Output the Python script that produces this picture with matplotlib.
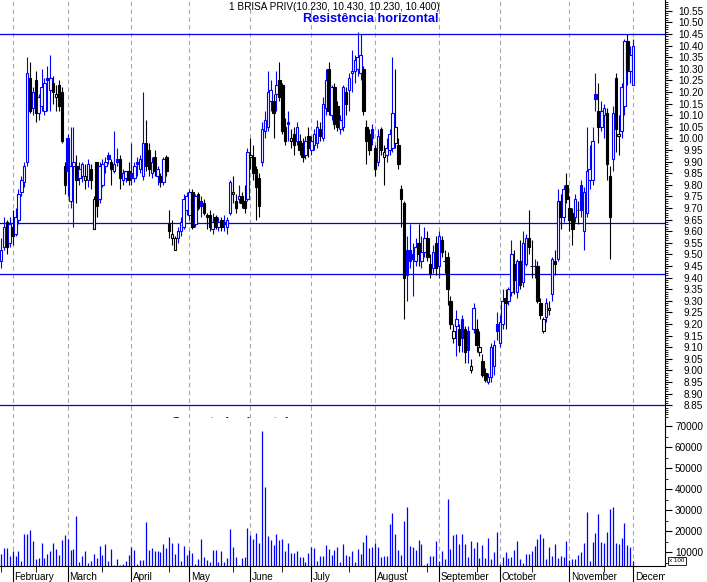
import matplotlib
matplotlib.use("Agg")
import matplotlib.pyplot as plt
import numpy as np
from matplotlib.patches import Rectangle
from matplotlib.transforms import blended_transform_factory, Bbox, TransformedBbox

plt.rcParams['font.family'] = ['Liberation Sans', 'DejaVu Sans']

# daily bars (open, high, low, close)
jan = [(9.47, 9.57, 9.44, 9.52), (9.53, 9.66, 9.52, 9.62), (9.64, 9.65, 9.50, 9.53), (9.55, 9.66, 9.53, 9.63)]
feb = [(9.62, 9.69, 9.54, 9.58), (9.59, 9.70, 9.58, 9.66), (9.65, 9.78, 9.63, 9.76), (9.77, 9.84, 9.75, 9.82),
       (9.81, 9.90, 9.79, 9.88), (9.90, 10.35, 9.88, 10.28), (10.26, 10.33, 10.11, 10.12), (10.13, 10.22, 10.10, 10.20),
       (10.25, 10.29, 10.07, 10.11), (10.11, 10.19, 10.08, 10.18), (10.14, 10.30, 10.12, 10.22), (10.12, 10.26, 10.10, 10.24),
       (10.26, 10.31, 10.12, 10.25), (10.21, 10.36, 10.12, 10.26), (10.24, 10.27, 10.15, 10.20), (10.18, 10.23, 10.12, 10.19),
       (10.23, 10.25, 10.12, 10.14), (10.20, 10.22, 9.98, 9.99), (9.88, 9.90, 9.76, 9.80)]
mar = [(10.00, 10.02, 9.75, 9.86), (9.73, 10.05, 9.70, 9.88), (9.88, 10.05, 9.62, 9.90), (9.88, 9.93, 9.72, 9.82),
       (9.83, 9.90, 9.80, 9.87), (9.84, 9.90, 9.81, 9.89), (9.82, 9.89, 9.78, 9.84), (9.82, 9.91, 9.79, 9.89),
       (9.87, 9.89, 9.78, 9.82), (9.61, 9.75, 9.61, 9.74), (9.90, 9.90, 9.66, 9.71), (9.74, 9.90, 9.72, 9.88),
       (9.80, 9.91, 9.79, 9.89), (9.88, 9.92, 9.85, 9.90), (9.93, 9.94, 9.89, 9.91), (9.90, 9.91, 9.80, 9.87),
       (9.86, 10.03, 9.85, 9.89), (9.91, 9.96, 9.88, 9.90), (9.91, 9.93, 9.78, 9.83), (9.82, 9.87, 9.80, 9.85),
       (9.83, 9.86, 9.81, 9.86), (9.86, 9.90, 9.80, 9.82)]
apr = [(9.85, 9.98, 9.80, 9.83), (9.83, 9.90, 9.81, 9.88), (9.90, 9.92, 9.84, 9.89), (9.87, 9.93, 9.85, 9.91),
       (9.84, 10.20, 9.82, 9.98), (9.98, 10.08, 9.86, 9.88), (9.95, 9.98, 9.84, 9.87), (9.85, 9.92, 9.83, 9.90),
       (9.92, 9.95, 9.84, 9.86), (9.84, 9.88, 9.80, 9.87), (9.84, 9.85, 9.79, 9.81), (9.81, 9.92, 9.80, 9.91),
       (9.92, 9.93, 9.84, 9.86), (9.63, 9.69, 9.57, 9.60), (9.57, 9.65, 9.54, 9.59), (9.52, 9.58, 9.52, 9.57),
       (9.57, 9.62, 9.55, 9.60), (9.60, 9.66, 9.58, 9.64), (9.62, 9.76, 9.61, 9.74), (9.69, 9.77, 9.67, 9.75)]
may = [(9.67, 9.78, 9.65, 9.77), (9.77, 9.78, 9.61, 9.62), (9.63, 9.76, 9.62, 9.75), (9.76, 9.77, 9.69, 9.70),
       (9.73, 9.75, 9.66, 9.71), (9.72, 9.74, 9.67, 9.68), (9.67, 9.68, 9.61, 9.66), (9.67, 9.69, 9.60, 9.62),
       (9.61, 9.68, 9.59, 9.64), (9.66, 9.67, 9.61, 9.62), (9.62, 9.66, 9.60, 9.64), (9.65, 9.66, 9.60, 9.62),
       (9.64, 9.67, 9.60, 9.63), (9.62, 9.66, 9.59, 9.65), (9.68, 9.82, 9.67, 9.81), (9.76, 9.84, 9.72, 9.77),
       (9.73, 9.76, 9.68, 9.70), (9.74, 9.80, 9.72, 9.75), (9.75, 9.77, 9.70, 9.72), (9.73, 9.80, 9.68, 9.70),
       (9.74, 9.96, 9.73, 9.94)]
jun = [(9.92, 10.00, 9.87, 9.93), (9.92, 9.97, 9.82, 9.85), (9.87, 9.88, 9.65, 9.79), (9.83, 9.85, 9.66, 9.71),
       (9.90, 10.07, 9.88, 10.04), (10.03, 10.12, 10.00, 10.08), (10.05, 10.29, 10.03, 10.20), (10.16, 10.25, 10.12, 10.21),
       (10.16, 10.19, 10.00, 10.11), (10.19, 10.29, 10.12, 10.23), (10.25, 10.33, 10.16, 10.18), (10.23, 10.24, 10.02, 10.03),
       (10.05, 10.09, 9.97, 9.99), (10.07, 10.12, 9.99, 10.06), (9.99, 10.04, 9.96, 10.00), (10.02, 10.05, 9.93, 9.97),
       (9.99, 10.07, 9.97, 10.05), (9.99, 10.02, 9.93, 9.95), (9.98, 10.00, 9.90, 9.92), (9.93, 10.01, 9.91, 9.99),
       (10.01, 10.05, 9.92, 9.96)]
jul = [(9.95, 10.01, 9.93, 9.99), (9.97, 10.04, 9.95, 10.02), (9.98, 10.08, 9.96, 10.05), (10.04, 10.07, 9.99, 10.01),
       (10.00, 10.18, 9.99, 10.15), (10.13, 10.30, 10.10, 10.25), (10.30, 10.33, 10.10, 10.12), (10.10, 10.23, 10.08, 10.22),
       (10.22, 10.24, 10.04, 10.06), (10.14, 10.16, 10.03, 10.05), (10.04, 10.10, 10.02, 10.08), (10.05, 10.23, 10.03, 10.22),
       (10.20, 10.22, 10.10, 10.15), (10.21, 10.28, 10.12, 10.26), (10.28, 10.38, 10.20, 10.29), (10.29, 10.36, 10.24, 10.34),
       (10.30, 10.46, 10.27, 10.35), (10.28, 10.45, 10.25, 10.36), (10.30, 10.31, 10.10, 10.12), (10.05, 10.08, 9.89, 9.99),
       (10.02, 10.04, 9.93, 9.95), (10.04, 10.06, 9.97, 10.00)]
aug = [(9.96, 9.97, 9.84, 9.87), (9.90, 10.04, 9.88, 10.01), (10.04, 10.05, 9.93, 9.95), (9.92, 9.97, 9.80, 9.94),
       (9.93, 10.00, 9.90, 9.96), (9.95, 10.04, 9.93, 10.02), (9.96, 10.35, 9.94, 10.11), (9.98, 10.30, 9.96, 10.05),
       (9.97, 10.00, 9.87, 9.89), (9.78, 9.80, 9.62, 9.74), (9.72, 9.73, 9.22, 9.40), (9.52, 9.58, 9.30, 9.41),
       (9.52, 9.63, 9.44, 9.47), (9.50, 9.55, 9.32, 9.48), (9.47, 9.57, 9.45, 9.53), (9.55, 9.63, 9.45, 9.50),
       (9.47, 9.58, 9.44, 9.51), (9.51, 9.62, 9.49, 9.57), (9.57, 9.60, 9.47, 9.49), (9.46, 9.50, 9.40, 9.42),
       (9.44, 9.54, 9.42, 9.51), (9.55, 9.58, 9.41, 9.44)]
sep = [(9.45, 9.60, 9.40, 9.58), (9.56, 9.58, 9.49, 9.51), (9.47, 9.52, 9.42, 9.47), (9.49, 9.51, 9.28, 9.35),
       (9.30, 9.32, 9.18, 9.20), (9.14, 9.20, 9.12, 9.17), (9.19, 9.26, 9.06, 9.22), (9.18, 9.20, 9.08, 9.11),
       (9.22, 9.24, 9.08, 9.14), (9.18, 9.19, 9.03, 9.08), (9.17, 9.19, 9.03, 9.09), (9.00, 9.05, 8.99, 9.02),
       (9.18, 9.29, 9.16, 9.27), (9.18, 9.22, 9.08, 9.11), (9.08, 9.17, 9.06, 9.10), (9.04, 9.07, 8.97, 8.98),
       (8.99, 9.01, 8.95, 8.96), (8.95, 8.99, 8.94, 8.97), (8.97, 9.12, 8.95, 9.10), (9.02, 9.13, 8.98, 9.11),
       (9.20, 9.25, 9.13, 9.17)]
oct_ = [(9.12, 9.24, 9.10, 9.21), (9.20, 9.35, 9.18, 9.30), (9.31, 9.35, 9.18, 9.29), (9.30, 9.36, 9.28, 9.35),
        (9.34, 9.56, 9.32, 9.50), (9.46, 9.52, 9.33, 9.39), (9.34, 9.48, 9.31, 9.47), (9.47, 9.56, 9.35, 9.37),
        (9.38, 9.60, 9.36, 9.55), (9.46, 9.59, 9.45, 9.57), (9.57, 9.69, 9.50, 9.53), (9.45, 9.56, 9.40, 9.45),
        (9.45, 9.48, 9.40, 9.45), (9.45, 9.47, 9.29, 9.30), (9.29, 9.31, 9.22, 9.24), (9.17, 9.23, 9.16, 9.22),
        (9.23, 9.31, 9.21, 9.29), (9.26, 9.30, 9.24, 9.27), (9.33, 9.49, 9.30, 9.48), (9.47, 9.52, 9.41, 9.46),
        (9.48, 9.78, 9.47, 9.73), (9.73, 9.76, 9.61, 9.66), (9.66, 9.80, 9.64, 9.78), (9.80, 9.85, 9.72, 9.74)]
nov = [(9.70, 9.75, 9.60, 9.65), (9.68, 9.70, 9.54, 9.61), (9.66, 9.76, 9.64, 9.74), (9.69, 9.73, 9.63, 9.69),
       (9.80, 9.82, 9.66, 9.69), (9.60, 9.79, 9.52, 9.77), (9.68, 10.05, 9.66, 9.86), (9.82, 9.97, 9.78, 9.87),
       (9.82, 10.05, 9.80, 9.99), (10.19, 10.28, 10.12, 10.17), (10.12, 10.24, 9.98, 10.05), (10.05, 10.16, 10.03, 10.12),
       (10.10, 10.15, 10.00, 10.13), (10.11, 10.13, 9.82, 9.89), (9.84, 9.88, 9.48, 9.66), (9.91, 10.14, 9.86, 10.11),
       (10.26, 10.28, 9.94, 10.04), (10.01, 10.10, 9.93, 10.02), (10.03, 10.24, 10.00, 10.22), (10.14, 10.43, 10.10, 10.42),
       (10.42, 10.45, 10.23, 10.29), (10.29, 10.40, 10.24, 10.36)]
dec = [(10.23, 10.43, 10.23, 10.40)]

# volume (shown in units of 100)
jan_vol = [9000, 12000, 12000, 8000]
feb_vol = [10500, 8000, 10500, 5700, 18600, 18600, 20500, 15200, 6700, 7200, 14300, 7200, 9000, 10500,
           14300, 11600, 8600, 15700, 18100]
mar_vol = [16200, 11100, 11600, 27100, 5200, 8000, 10500, 4700, 5700, 9000, 7200, 12800, 8600, 13800,
           5700, 11600, 3800, 6700, 3600, 4200, 5700, 8600]
apr_vol = [12300, 11100, 4200, 6200, 6200, 24300, 11100, 12000, 10500, 10500, 10000, 13800, 12000, 17100,
           14300, 9000, 14300, 5700, 12800, 8600]
may_vol = [11100, 9500, 4500, 6700, 16200, 7600, 6200, 5200, 11100, 11100, 5200, 10500, 5200, 7200,
           21000, 12300, 7600, 4000, 7200, 7600, 21400]
jun_vol = [18100, 16200, 19000, 14300, 67600, 41000, 17600, 15700, 13300, 18600, 15700, 16200, 10500,
           14300, 9500, 9500, 10500, 7600, 7600, 5200, 9500]
jul_vol = [12300, 12000, 5700, 8000, 8000, 13300, 11600, 8600, 11100, 12300, 5200, 13800, 8600, 8000,
           10500, 5200, 11600, 9000, 14800, 18100, 12000, 12300]
aug_vol = [14300, 12300, 7600, 8000, 8000, 23300, 28600, 18600, 11100, 8600, 24800, 31400, 12800, 12300,
           11100, 15700, 13800, 4000, 4700, 8000, 8000, 15200]
sep_vol = [5700, 10500, 6700, 35200, 11600, 18100, 18600, 13800, 18600, 13800, 7600, 15200, 12000, 14800,
           7200, 13300, 7200, 16700, 6700, 10000, 19500]
oct_vol = [4200, 7600, 10000, 7200, 7600, 11100, 15200, 6700, 5000, 9000, 9000, 10500, 12800, 16200,
           18600, 16700, 6700, 12300, 8000, 13800, 7200, 8000, 7600, 15200]
nov_vol = [6200, 6700, 6700, 8600, 10000, 14300, 29000, 5700, 14800, 19000, 28100, 14800, 14300, 19500,
           30500, 31400, 14300, 13800, 16700, 23800, 13300, 12300]
dec_vol = [5700]

month_names = ['February', 'March', 'April', 'May', 'June', 'July', 'August',
               'September', 'October', 'November', 'December']
levels = [10.45, 9.637, 9.415, 8.85]
title = '1 BRISA PRIV(10.230, 10.430, 10.230, 10.400)'

months = [jan, feb, mar, apr, may, jun, jul, aug, sep, oct_, nov, dec]
vols = [jan_vol, feb_vol, mar_vol, apr_vol, may_vol, jun_vol, jul_vol, aug_vol, sep_vol, oct_vol, nov_vol, dec_vol]
bars = [b for m in months for b in m]
volume = [v for m in vols for v in m]
month_starts = list(np.cumsum([len(m) for m in months])[:-1])

BLUE = '#0000ff'
W, H = 707, 582
fig = plt.figure(figsize=(W / 100, H / 100), dpi=100)
ax = fig.add_axes([0, 1 - 418 / H, 665 / W, 418 / H])
axv = fig.add_axes([0, 1 - 566 / H, 665 / W, 148 / H])

xlim = (-0.345, 228.97)
for a in (ax, axv):
    a.set_xlim(*xlim)
    for ms in month_starts:
        a.axvline(ms, color='#a8a8a8', lw=0.8, ls=(0, (4, 3)), zorder=0)
    a.spines['left'].set_visible(False)
    a.spines['top'].set_visible(False)
    a.spines['right'].set_linewidth(0.8)

# price panel
ax.set_ylim(10.45 - 384 / 232, 10.45 + 34 / 232)
ax.spines['bottom'].set_visible(False)
for lv in levels:
    ax.axhline(lv, color='#0000ee', lw=0.9, zorder=1)

w = 0.85
prev = bars[0][3]
for i, (o, h, l, c) in enumerate(bars):
    col = BLUE if c >= prev else 'black'
    prev = c
    ax.vlines(i, l, h, color=col, lw=0.8, zorder=2)
    fc = 'white' if c >= o else col
    ax.add_patch(Rectangle((i - w / 2, min(o, c)), w, abs(c - o),
                           facecolor=fc, edgecolor=col, lw=0.8, zorder=3))

ax.set_xticks([])
ax.yaxis.tick_right()
ax.set_yticks(np.round(np.arange(8.85, 10.56, 0.05), 2))
ax.set_yticks(np.round(np.arange(8.80, 10.60, 0.01), 2), minor=True)
ax.yaxis.set_major_formatter(plt.FormatStrFormatter('%.2f'))
ax.tick_params(axis='y', which='major', length=5, width=0.8, labelsize=7.2, pad=22.4)
ax.tick_params(axis='y', which='minor', length=2.2, width=0.6)
plt.setp(ax.get_yticklabels(), ha='right')

ax.text((172 - 1) / 2.9, 8.799, 'Suporte horizontal', color='#0000ee', fontweight='bold',
        fontsize=9.5, ha='left', va='top', clip_on=True)

# volume panel
vmin = 10000 - 14 / 2.1 * 1000
axv.set_ylim(vmin, 10000 + 134 / 2.1 * 1000)
axv.vlines(range(len(volume)), vmin, volume, color=BLUE, lw=0.9, zorder=2)
axv.yaxis.tick_right()
axv.set_yticks(np.arange(10000, 70001, 10000))
axv.set_yticks(np.arange(5000, 73001, 5000), minor=True)
axv.yaxis.set_major_formatter(plt.FormatStrFormatter('%d'))
axv.tick_params(axis='y', which='major', length=5, width=0.8, labelsize=7.2, pad=22.4)
axv.tick_params(axis='y', which='minor', length=2.2, width=0.6)
plt.setp(axv.get_yticklabels(), ha='right')

axv.set_xticks(month_starts)
axv.set_xticks([0, 12, 35, 58, 80, 97, 120, 140, 147, 164, 183, 208], minor=True)
axv.set_xticklabels([])
axv.tick_params(axis='x', which='major', length=11.5, width=0.8, direction='out')
axv.tick_params(axis='x', which='minor', length=4, width=0.6, direction='out')
axv.spines['bottom'].set_linewidth(0.8)

trans = blended_transform_factory(axv.transData, axv.transAxes)
clip = TransformedBbox(Bbox([[0, 0], [665 / W, 1]]), fig.transFigure)
for name, ms in zip(month_names, month_starts):
    t = axv.text(ms + 0.5, -11 / 148, name, transform=trans, fontsize=7.2,
                 ha='left', va='center', clip_on=False)
    if name == 'December':
        t.set_clip_on(True)
        t.set_clip_box(clip)

# headings
fig.text(334 / W, 1 - 7.5 / H, title, ha='center', va='center', fontsize=7.2)
fig.text(371 / W, 1 - 18.5 / H, 'Resistência horizontal', color='#0000ee', fontweight='bold',
         fontsize=9.2, ha='center', va='center')
fig.text(677 / W, 1 - 561 / H, 'x 100', ha='center', va='center', fontsize=4.5,
         bbox=dict(boxstyle='square,pad=0.25', fc='white', ec='black', lw=0.6))

fig.savefig('out.png', dpi=100)
